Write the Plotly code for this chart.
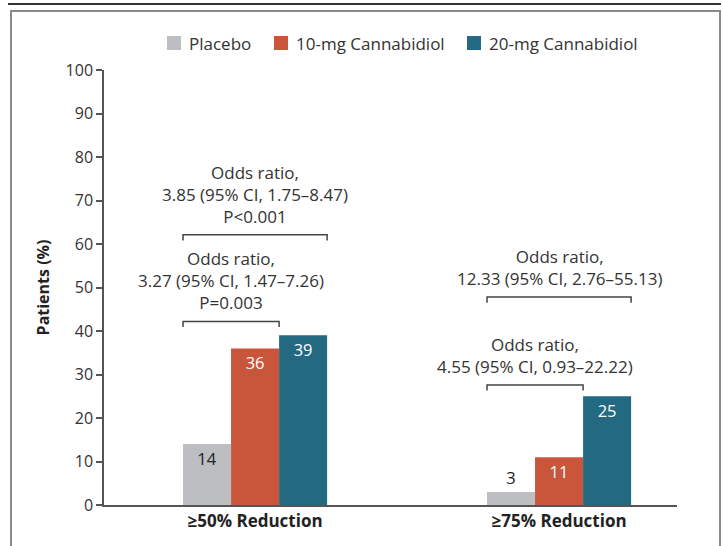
import plotly.graph_objects as go

categories = ["≥50% Reduction", "≥75% Reduction"]
series_names = ["Placebo", "10-mg Cannabidiol", "20-mg Cannabidiol"]
placebo = [14, 3]
cbd10 = [36, 11]
cbd20 = [39, 25]
y_ticks = [0, 10, 20, 30, 40, 50, 60, 70, 80, 90, 100]

# brackets: (category index, from series idx, to series idx, bracket height, text)
brackets = [
    (0, 0, 1, 42.2, "Odds ratio,<br>3.27 (95% CI, 1.47–7.26)<br>P=0.003"),
    (0, 0, 2, 62.1, "Odds ratio,<br>3.85 (95% CI, 1.75–8.47)<br>P<0.001"),
    (1, 0, 1, 27.6, "Odds ratio,<br>4.55 (95% CI, 0.93–22.22)"),
    (1, 0, 2, 47.8, "Odds ratio,<br>12.33 (95% CI, 2.76–55.13)"),
]

colors = ["#BDBEC2", "#C9553B", "#236982"]
FONT = "Open Sans"
W, H = 723, 546
ml, mr, mt, mb = 104, 46, 70, 41
pw, ph = W - ml - mr, H - mt - mb

bargap = 0.526
bw = (1 - bargap) / 3
xs = list(range(len(categories)))

fig = go.Figure()
vals = [placebo, cbd10, cbd20]
for i, (name, v) in enumerate(zip(series_names, vals)):
    tpos = ["inside" if val > 8 else "outside" for val in v]
    tcol = "#222" if i == 0 else "white"
    fig.add_trace(go.Bar(
        x=xs, y=v, name=name, marker=dict(color=colors[i], line=dict(width=0)),
        text=[str(t) for t in v], textposition=tpos, insidetextanchor="end",
        insidetextfont=dict(color=tcol, size=16.5, family=FONT),
        outsidetextfont=dict(color="#222", size=16.5, family=FONT),
        cliponaxis=False, hoverinfo="skip", showlegend=False,
    ))

def px_x(p):
    return (p - ml) / pw

def px_y(p):
    return (H - mb - p) / ph

shapes = []
annotations = []
for ci, s0, s1, yb, txt in brackets:
    x0 = ci - 1.5 * bw + s0 * bw
    x1 = ci - 1.5 * bw + (s1 + 1) * bw
    d = 1.3
    shapes.append(dict(type="path", xref="x", yref="y",
                       path=f"M {x0},{yb-d} L {x0},{yb} L {x1},{yb} L {x1},{yb-d}",
                       line=dict(color="#444", width=1.5)))
    annotations.append(dict(x=(x0 + x1) / 2, y=yb, xref="x", yref="y", text=txt,
                            showarrow=False, yanchor="bottom", yshift=5,
                            font=dict(family=FONT, size=17, color="#333")))

# manual legend
legend_sq_x = [167, 274, 467]
for i, name in enumerate(series_names):
    sx = legend_sq_x[i]
    shapes.append(dict(type="rect", xref="paper", yref="paper",
                       x0=px_x(sx), x1=px_x(sx + 14), y0=px_y(50), y1=px_y(36),
                       fillcolor=colors[i], line=dict(width=0)))
    annotations.append(dict(x=px_x(sx + 20), y=px_y(43), xref="paper", yref="paper",
                            text=name, showarrow=False, xanchor="left", yanchor="middle",
                            font=dict(family=FONT, size=17, color="#333")))

# frame
shapes.append(dict(type="line", xref="paper", yref="paper", x0=px_x(8), x1=px_x(721),
                   y0=px_y(4), y1=px_y(4), line=dict(color="#333", width=2)))
shapes.append(dict(type="path", xref="paper", yref="paper",
                   path=f"M {px_x(11)},{px_y(548)} L {px_x(11)},{px_y(11)} L {px_x(720)},{px_y(11)} L {px_x(720)},{px_y(548)}",
                   line=dict(color="#8a8a8a", width=2)))

fig.update_layout(
    width=W, height=H, margin=dict(l=ml, r=mr, t=mt, b=mb),
    paper_bgcolor="white", plot_bgcolor="white",
    barmode="group", bargap=bargap, bargroupgap=0,
    font=dict(family=FONT, size=16, color="#333"),
    showlegend=False,
    xaxis=dict(range=[-0.497, 1.388], tickvals=xs,
               ticktext=[f"<b>{c}</b>" for c in categories],
               showline=True, linecolor="#555", linewidth=2, ticks="", showgrid=False,
               zeroline=False, tickfont=dict(family=FONT, size=17, color="#222")),
    yaxis=dict(range=[0, 100], tickvals=y_ticks, showline=True, linecolor="#555",
               linewidth=1.5, ticks="outside", ticklen=6, tickcolor="#555", tickwidth=1.5,
               showgrid=False, zeroline=False,
               tickfont=dict(family=FONT, size=16, color="#333"),
               title=dict(text="<b>Patients (%)</b>", standoff=12,
                          font=dict(family=FONT, size=16, color="#222"))),
    shapes=shapes, annotations=annotations,
)

fig.write_html("out.html", post_script="document.body.style.margin='0';",
               config={"displayModeBar": False})
